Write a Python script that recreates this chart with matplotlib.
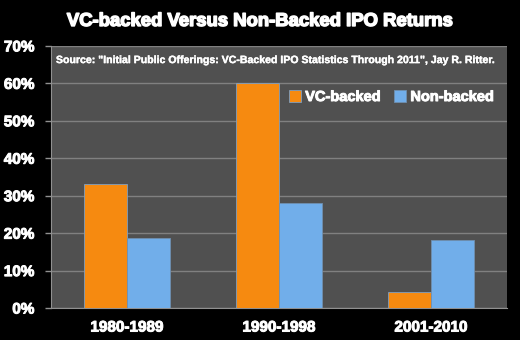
import numpy as np
import matplotlib.pyplot as plt
import matplotlib.patheffects as pe
from matplotlib.ticker import PercentFormatter

# IPO returns by period (percent)
periods = ['1980-1989', '1990-1998', '2001-2010']
vc_backed = [33.2, 60.0, 4.4]
non_backed = [18.8, 28.1, 18.1]

plt.rcParams['font.family'] = ['Liberation Sans', 'DejaVu Sans']
plt.rcParams['font.weight'] = 'bold'

# thicker strokes to make the bold text look heavier
heavy = [pe.withStroke(linewidth=0.7, foreground='white')]

fig = plt.figure(figsize=(5.2, 3.4), dpi=100, facecolor='black')
ax = fig.add_axes([0.098, 0.094, 0.877, 0.771])
ax.set_facecolor('#505050')

x = np.arange(len(periods))
w = 0.283
ax.bar(x - w / 2, vc_backed, w, color='#f68a10', edgecolor='#7f9fc0', linewidth=0.6,
       label='VC-backed', zorder=3)
ax.bar(x + w / 2, non_backed, w, color='#71aeea', edgecolor='#6f8fb0', linewidth=0.6,
       label='Non-backed', zorder=3)

ax.set_xlim(-0.5, 2.5)
ax.set_ylim(0, 70)
ax.set_yticks(range(0, 71, 10))
ax.yaxis.set_major_formatter(PercentFormatter(decimals=0))
ax.set_xticks(x)
ax.set_xticklabels(periods)
ax.grid(axis='y', color='#808080', linewidth=1.0, zorder=1)

ax.tick_params(axis='y', colors='white', labelsize=11, length=4, width=1, color='#909090', pad=8)
ax.tick_params(axis='x', colors='white', labelsize=11, length=0, pad=9)
for lbl in ax.get_xticklabels() + ax.get_yticklabels():
    lbl.set_fontweight('bold')
    lbl.set_path_effects(heavy)
for side in ['top', 'right']:
    ax.spines[side].set_visible(False)
ax.spines['left'].set_color('#909090')
ax.spines['bottom'].set_color('#909090')

ax.text(0.011, 0.965, 'Source: "Initial Public Offerings: VC-Backed IPO Statistics Through 2011", Jay R. Ritter.',
        transform=ax.transAxes, color='white', fontsize=7.6, fontweight='bold', va='top', ha='left',
        path_effects=[pe.withStroke(linewidth=0.3, foreground='white')])

leg = ax.legend(loc='center right', bbox_to_anchor=(0.995, 0.805), ncol=2, frameon=False,
                fontsize=10.5, handlelength=0.8, handleheight=0.8, handletextpad=0.3,
                columnspacing=0.9, borderaxespad=0.3)
for t in leg.get_texts():
    t.set_color('white')
    t.set_fontweight('bold')
    t.set_path_effects(heavy)

fig.suptitle('VC-backed Versus Non-Backed IPO Returns', color='white', fontsize=13.3,
             fontweight='bold', x=0.5, y=0.962,
             path_effects=[pe.withStroke(linewidth=1.1, foreground='white')])

fig.savefig('out.png', dpi=100, facecolor='black')
